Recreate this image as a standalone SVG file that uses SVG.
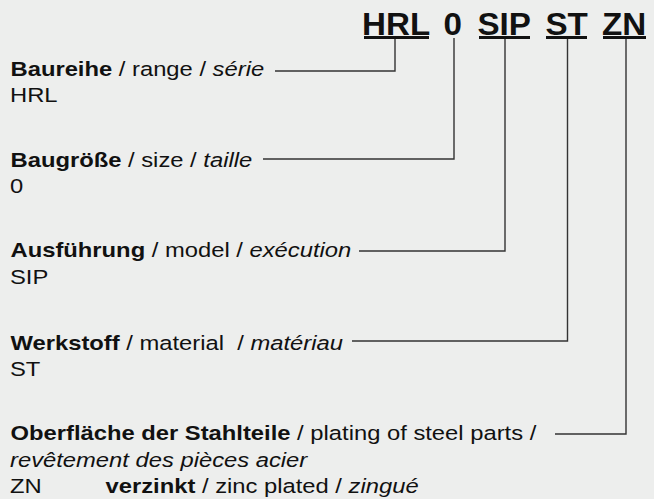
<svg xmlns="http://www.w3.org/2000/svg" width="654" height="499" viewBox="0 0 654 499">
<style>
text{font-family:"Liberation Sans",Arial,sans-serif;fill:#111}
.t{font-size:31px;font-weight:bold}
.b{font-size:20.5px}
.bd{font-weight:bold}
.it{font-style:italic}
.ul{fill:#111}
.c{fill:none;stroke:#333;stroke-width:1.4}
</style>
<rect width="654" height="499" fill="#edeeed"/>
<g id="title">
<text class="t" transform="translate(362 35) scale(1.07 1)">HRL</text>
<text class="t" transform="translate(443.5 35) scale(1.07 1)">0</text>
<text class="t" transform="translate(477.5 35) scale(1.07 1)">SIP</text>
<text class="t" transform="translate(545.5 35) scale(1.07 1)">ST</text>
<text class="t" transform="translate(602 35) scale(1.07 1)">ZN</text>
<rect class="ul" x="364" y="36" width="65" height="3"/>
<rect class="ul" x="479" y="36" width="51" height="3"/>
<rect class="ul" x="546" y="36" width="41" height="3"/>
<rect class="ul" x="603" y="36" width="43" height="3"/>
</g>
<g id="connectors">
<path class="c" d="M395,39 V71 H275"/>
<path class="c" d="M454,38 V159 H263"/>
<path class="c" d="M505,39 V251 H359"/>
<path class="c" d="M567.5,39 V341 H352"/>
<path class="c" d="M626,39 V434 H555"/>
</g>
<g id="range">
<text class="b" transform="translate(10.5 76) scale(1.16 1)"><tspan class="bd">Baureihe</tspan> / range / <tspan class="it">série</tspan></text>
<text class="b" transform="translate(10 102) scale(1.16 1)">HRL</text>
</g>
<g id="size">
<text class="b" transform="translate(10.5 167) scale(1.16 1)"><tspan class="bd">Baugröße</tspan> / size / <tspan class="it">taille</tspan></text>
<text class="b" transform="translate(10 193) scale(1.16 1)">0</text>
</g>
<g id="model">
<text class="b" transform="translate(10.5 257) scale(1.16 1)"><tspan class="bd">Ausführung</tspan> / model / <tspan class="it">exécution</tspan></text>
<text class="b" transform="translate(10 284) scale(1.16 1)">SIP</text>
</g>
<g id="material">
<text class="b" transform="translate(10.5 350) scale(1.16 1)" xml:space="preserve"><tspan class="bd">Werkstoff</tspan> / material  / <tspan class="it">matériau</tspan></text>
<text class="b" transform="translate(10 376) scale(1.16 1)">ST</text>
</g>
<g id="plating">
<text class="b" transform="translate(10.5 440) scale(1.16 1)"><tspan class="bd">Oberfläche der Stahlteile</tspan> / plating of steel parts /</text>
<text class="b it" transform="translate(10 466.5) scale(1.16 1)">revêtement des pièces acier</text>
<text class="b" transform="translate(10 493) scale(1.16 1)">ZN</text>
<text class="b" transform="translate(105.5 493) scale(1.16 1)"><tspan class="bd">verzinkt</tspan> / zinc plated / <tspan class="it">zingué</tspan></text>
</g>
</svg>
